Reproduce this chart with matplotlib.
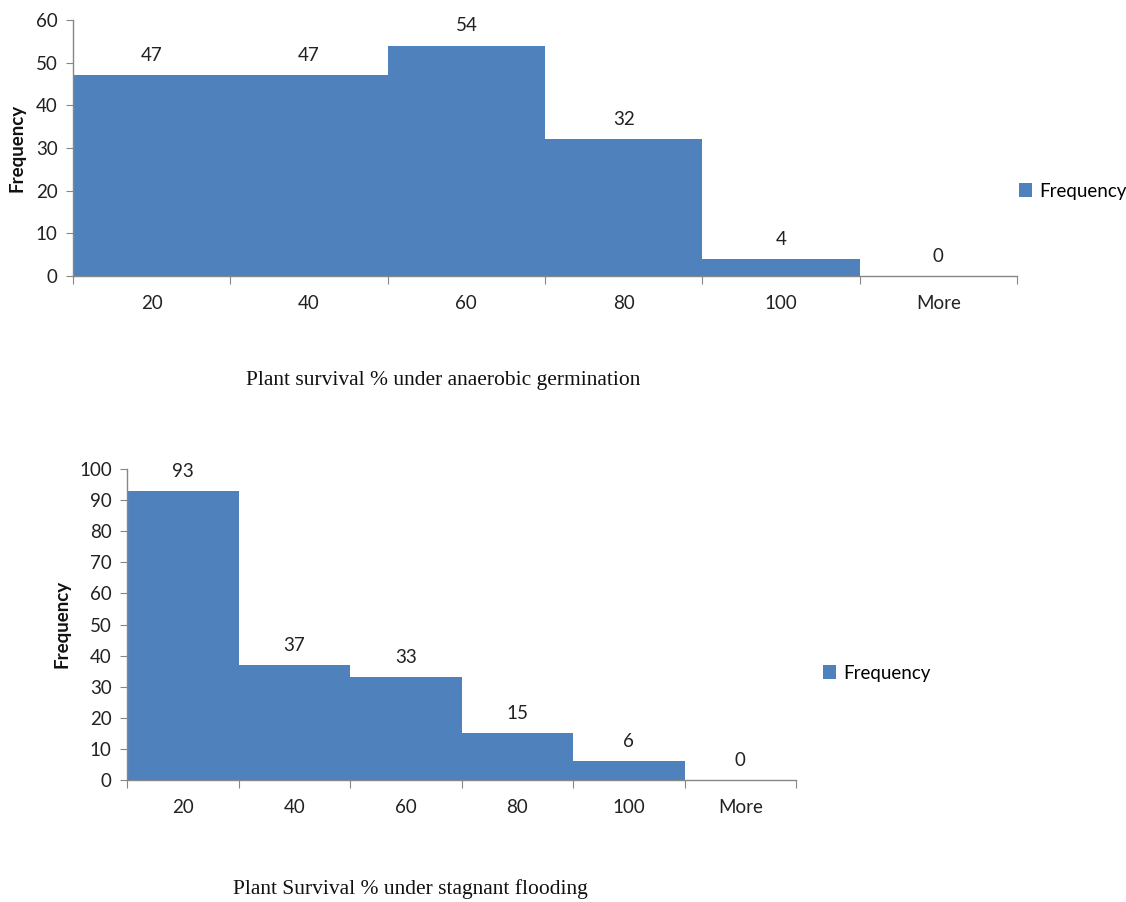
import matplotlib
matplotlib.use("Agg")
import matplotlib.pyplot as plt
import numpy as np

# Histogram bins (upper edge of each survival % class)
bins = ["20", "40", "60", "80", "100", "More"]
freq_anaerobic = [47, 47, 54, 32, 4, 0]
freq_flooding = [93, 37, 33, 15, 6, 0]

title_anaerobic = "Plant survival % under anaerobic germination"
title_flooding = "Plant Survival % under stagnant flooding"

BAR = "#4F81BD"
AXIS = "#868686"
SANS = ["Lato", "DejaVu Sans"]
SERIF = ["Liberation Serif", "DejaVu Serif"]
FS = 13.5

W, H = 1126, 902
fig = plt.figure(figsize=(W / 100, H / 100), dpi=100)


def px_axes(left, top, right, bottom):
    return fig.add_axes([left / W, 1 - bottom / H, (right - left) / W, (bottom - top) / H])


def draw_hist(ax, values, ymax, ystep, ylabel_px, legend_px, title, title_px):
    x = np.arange(len(bins))
    ax.bar(x, values, width=1.0, color=BAR, label="Frequency", linewidth=0)
    for xi, v in zip(x, values):
        ax.annotate(str(v), (xi, v), xytext=(0, 8), textcoords="offset points",
                    ha="center", va="bottom", fontsize=FS, family=SANS, color="#222222")
    ax.set_xlim(-0.5, len(bins) - 0.5)
    ax.set_ylim(0, ymax)
    ax.set_yticks(np.arange(0, ymax + 1, ystep))
    ax.set_xticks(np.arange(len(bins) + 1) - 0.5)
    ax.set_xticklabels([])
    ax.set_xticks(x, minor=True)
    ax.set_xticklabels(bins, minor=True)
    ax.tick_params(axis="x", which="major", length=6, color=AXIS, direction="out")
    ax.tick_params(axis="x", which="minor", length=0, pad=13.5, labelsize=FS, labelcolor="#222222")
    ax.tick_params(axis="y", length=5, color=AXIS, pad=6, labelsize=FS, labelcolor="#222222")
    for lab in ax.get_xticklabels(minor=True) + ax.get_yticklabels():
        lab.set_family(SANS)
    for s in ("top", "right"):
        ax.spines[s].set_visible(False)
    for s in ("left", "bottom"):
        ax.spines[s].set_color(AXIS)
        ax.spines[s].set_linewidth(1.0)
    ax.set_ylabel("Frequency", fontsize=FS, fontweight="bold", family=SANS, color="#111111")
    ax.yaxis.set_label_coords(ylabel_px[0] / W, 1 - ylabel_px[1] / H, transform=fig.transFigure)
    ax.legend(loc="center left", bbox_to_anchor=(legend_px[0] / W, 1 - legend_px[1] / H),
              bbox_transform=fig.transFigure,
              frameon=False, handlelength=0.7, handleheight=0.7, handletextpad=0.4,
              borderpad=0, borderaxespad=0, prop={"family": SANS, "size": FS})
    fig.text(title_px[0] / W, 1 - title_px[1] / H, title, ha="left", va="center",
             fontsize=15.5, family=SERIF, color="#111111")


ax1 = px_axes(73, 20, 1017, 276)
draw_hist(ax1, freq_anaerobic, 60, 10, (26, 148), (1019, 191),
          title_anaerobic, (246, 381))

ax2 = px_axes(127, 469, 796, 780)
draw_hist(ax2, freq_flooding, 100, 10, (71, 624), (823, 673),
          title_flooding, (233, 889))

fig.savefig("out.png", dpi=100)
